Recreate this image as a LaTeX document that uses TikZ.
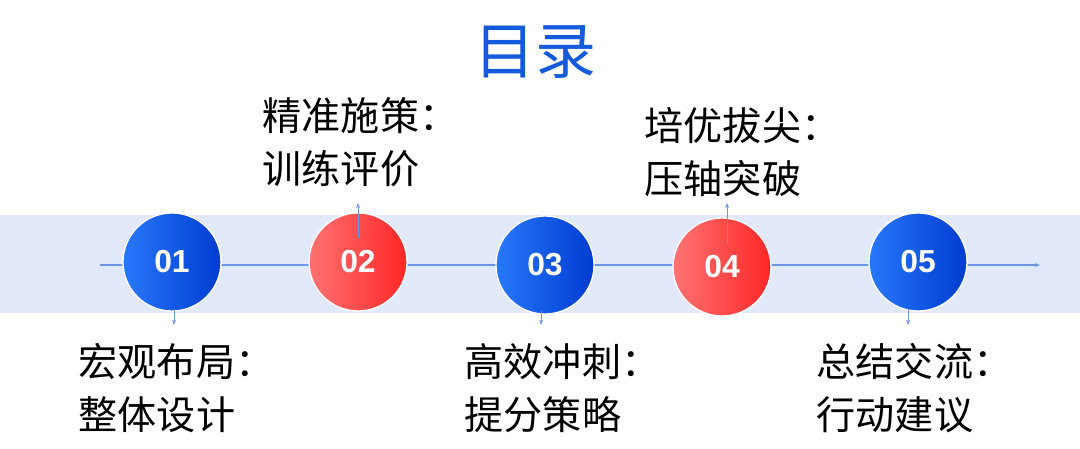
\documentclass[tikz,border=0pt]{standalone}
\usepackage{fontspec}
\setmainfont{Liberation Sans}
\newfontfamily\cjk{Noto Sans CJK SC}
\usetikzlibrary{positioning,arrows.meta}
\definecolor{bandblue}{RGB}{226,233,250}
\definecolor{lineblue}{RGB}{110,150,230}
\definecolor{titleblue}{RGB}{20,90,220}
\definecolor{dotblueA}{RGB}{40,120,250}
\definecolor{dotblueB}{RGB}{0,60,210}
\newlength{\unitpx}\setlength{\unitpx}{0.0265cm}
\tikzset{
  numdot/.style={circle, draw=white, line width=1pt, minimum size=98\unitpx,
    font=\bfseries\fontsize{24}{24}\selectfont, text=white},
  bluedot/.style={numdot, left color=dotblueA, right color=dotblueB},
  reddot/.style={numdot, left color=red!55!white, right color=red!85},
  itemtext/.style={font=\cjk\fontsize{29.5}{40}\selectfont, align=left, anchor=west},
  tick/.style={-{Stealth[length=4pt]}, lineblue, line width=0.6pt}
}
\begin{document}
\begin{tikzpicture}[x=0.0265cm, y=-0.0265cm]
\useasboundingbox (0,0) rectangle (1080,449);
\fill[bandblue] (0,215) rectangle (1080,313);
\coordinate (start) at (100,265);
\coordinate (end) at (1040,265);
\draw[tick, line width=0.8pt] (start) -- (end);
\node (title) at (535,52) [font=\cjk\fontsize{46}{46}\selectfont, text=titleblue] {目录};
% steps
\node (c01) at (172,262) [bluedot] {01};
\node (c02) at (358,262) [reddot] {02};
\node (c03) at (545,265) [bluedot] {03};
\node (c04) at (722,267) [reddot] {04};
\node (c05) at (918,262) [bluedot] {05};
% small ticks
\coordinate (t01) at (174,325);
\coordinate (t02) at (358,203);
\coordinate (t03) at (541,325);
\coordinate (t04) at (727,203);
\coordinate (t05) at (908,325);
\draw[tick] (174,309) -- (t01);
\draw[tick] (358,238) -- (t02);
\draw[tick] (541,311) -- (t03);
\draw[tick] (727,243) -- (t04);
\draw[tick] (908,309) -- (t05);
% labels
\node (lab01) at (74,388) [itemtext] {宏观布局：\\整体设计};
\node (lab02) at (258,142) [itemtext] {精准施策：\\训练评价};
\node (lab03) at (460,388) [itemtext] {高效冲刺：\\提分策略};
\node (lab04) at (640,152) [itemtext] {培优拔尖：\\压轴突破};
\node (lab05) at (812,388) [itemtext] {总结交流：\\行动建议};
\end{tikzpicture}
\end{document}
